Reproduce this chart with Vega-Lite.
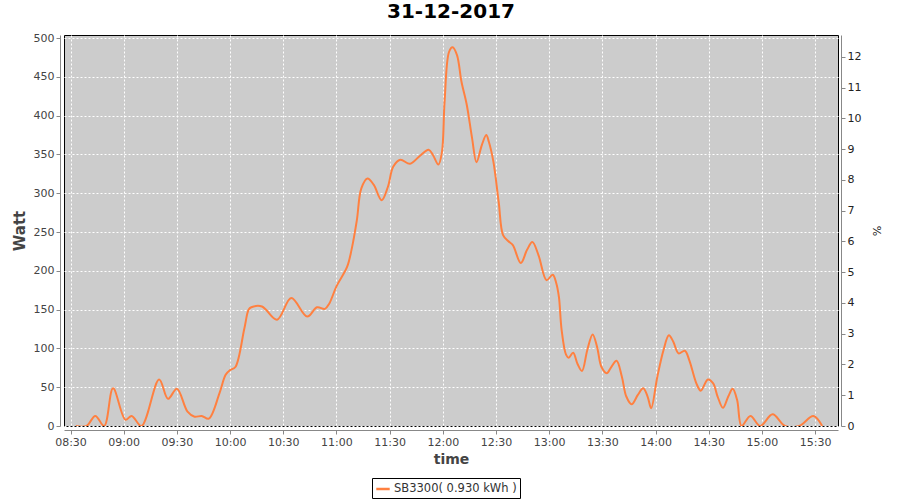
{
  "$schema": "https://vega.github.io/schema/vega-lite/v6.json",
  "width": 774,
  "height": 391,
  "autosize": {"type": "none"},
  "padding": {"left": 64, "top": 35, "right": 62, "bottom": 74},
  "background": "white",
  "title": {"text": "31-12-2017", "font": "DejaVu Sans", "fontSize": 20, "fontWeight": "bold", "color": "#000", "offset": 10, "anchor": "middle"},
  "data": {"values": [
    {"time": "2017-12-31T08:33:00Z", "watt": 0},
    {"time": "2017-12-31T08:39:00Z", "watt": 0},
    {"time": "2017-12-31T08:44:00Z", "watt": 13},
    {"time": "2017-12-31T08:49:00Z", "watt": 0},
    {"time": "2017-12-31T08:54:00Z", "watt": 48.5},
    {"time": "2017-12-31T09:01:00Z", "watt": 8},
    {"time": "2017-12-31T09:04:30Z", "watt": 13},
    {"time": "2017-12-31T09:10:00Z", "watt": 0},
    {"time": "2017-12-31T09:20:00Z", "watt": 60},
    {"time": "2017-12-31T09:25:00Z", "watt": 35},
    {"time": "2017-12-31T09:30:00Z", "watt": 48},
    {"time": "2017-12-31T09:36:00Z", "watt": 18.5},
    {"time": "2017-12-31T09:40:00Z", "watt": 12},
    {"time": "2017-12-31T09:44:00Z", "watt": 13},
    {"time": "2017-12-31T09:48:00Z", "watt": 9.5},
    {"time": "2017-12-31T09:54:00Z", "watt": 42},
    {"time": "2017-12-31T09:57:30Z", "watt": 66},
    {"time": "2017-12-31T10:00:00Z", "watt": 72},
    {"time": "2017-12-31T10:03:00Z", "watt": 76},
    {"time": "2017-12-31T10:08:00Z", "watt": 125},
    {"time": "2017-12-31T10:10:30Z", "watt": 150},
    {"time": "2017-12-31T10:12:00Z", "watt": 153},
    {"time": "2017-12-31T10:18:00Z", "watt": 154},
    {"time": "2017-12-31T10:26:30Z", "watt": 137},
    {"time": "2017-12-31T10:34:30Z", "watt": 165},
    {"time": "2017-12-31T10:43:30Z", "watt": 141},
    {"time": "2017-12-31T10:49:00Z", "watt": 153},
    {"time": "2017-12-31T10:53:30Z", "watt": 151},
    {"time": "2017-12-31T10:56:00Z", "watt": 158},
    {"time": "2017-12-31T11:00:00Z", "watt": 180},
    {"time": "2017-12-31T11:06:00Z", "watt": 205},
    {"time": "2017-12-31T11:08:30Z", "watt": 227},
    {"time": "2017-12-31T11:11:30Z", "watt": 265},
    {"time": "2017-12-31T11:14:00Z", "watt": 306},
    {"time": "2017-12-31T11:17:30Z", "watt": 319},
    {"time": "2017-12-31T11:21:00Z", "watt": 311},
    {"time": "2017-12-31T11:25:30Z", "watt": 291},
    {"time": "2017-12-31T11:29:00Z", "watt": 308},
    {"time": "2017-12-31T11:32:00Z", "watt": 334},
    {"time": "2017-12-31T11:36:00Z", "watt": 343},
    {"time": "2017-12-31T11:41:30Z", "watt": 338},
    {"time": "2017-12-31T11:47:00Z", "watt": 348},
    {"time": "2017-12-31T11:52:00Z", "watt": 356},
    {"time": "2017-12-31T11:54:30Z", "watt": 349},
    {"time": "2017-12-31T11:57:30Z", "watt": 337},
    {"time": "2017-12-31T11:59:30Z", "watt": 353},
    {"time": "2017-12-31T12:01:00Z", "watt": 418},
    {"time": "2017-12-31T12:03:30Z", "watt": 482},
    {"time": "2017-12-31T12:05:30Z", "watt": 488},
    {"time": "2017-12-31T12:08:00Z", "watt": 478},
    {"time": "2017-12-31T12:10:30Z", "watt": 444},
    {"time": "2017-12-31T12:13:30Z", "watt": 414},
    {"time": "2017-12-31T12:16:30Z", "watt": 371},
    {"time": "2017-12-31T12:19:00Z", "watt": 340},
    {"time": "2017-12-31T12:22:00Z", "watt": 362},
    {"time": "2017-12-31T12:24:30Z", "watt": 375},
    {"time": "2017-12-31T12:26:00Z", "watt": 366},
    {"time": "2017-12-31T12:28:30Z", "watt": 341},
    {"time": "2017-12-31T12:31:30Z", "watt": 289},
    {"time": "2017-12-31T12:34:00Z", "watt": 246},
    {"time": "2017-12-31T12:37:00Z", "watt": 238},
    {"time": "2017-12-31T12:39:30Z", "watt": 233},
    {"time": "2017-12-31T12:44:00Z", "watt": 210},
    {"time": "2017-12-31T12:47:30Z", "watt": 227},
    {"time": "2017-12-31T12:50:30Z", "watt": 237},
    {"time": "2017-12-31T12:54:00Z", "watt": 220},
    {"time": "2017-12-31T12:58:30Z", "watt": 188},
    {"time": "2017-12-31T13:02:00Z", "watt": 195},
    {"time": "2017-12-31T13:04:00Z", "watt": 184},
    {"time": "2017-12-31T13:05:30Z", "watt": 166},
    {"time": "2017-12-31T13:07:00Z", "watt": 124},
    {"time": "2017-12-31T13:09:30Z", "watt": 92},
    {"time": "2017-12-31T13:11:00Z", "watt": 88},
    {"time": "2017-12-31T13:13:30Z", "watt": 94.5},
    {"time": "2017-12-31T13:16:00Z", "watt": 80},
    {"time": "2017-12-31T13:18:30Z", "watt": 71},
    {"time": "2017-12-31T13:21:30Z", "watt": 98},
    {"time": "2017-12-31T13:24:30Z", "watt": 118},
    {"time": "2017-12-31T13:27:00Z", "watt": 102},
    {"time": "2017-12-31T13:29:30Z", "watt": 76},
    {"time": "2017-12-31T13:32:30Z", "watt": 68},
    {"time": "2017-12-31T13:35:00Z", "watt": 76},
    {"time": "2017-12-31T13:38:00Z", "watt": 84},
    {"time": "2017-12-31T13:41:00Z", "watt": 63.5},
    {"time": "2017-12-31T13:43:30Z", "watt": 38},
    {"time": "2017-12-31T13:46:30Z", "watt": 28},
    {"time": "2017-12-31T13:50:00Z", "watt": 40},
    {"time": "2017-12-31T13:53:00Z", "watt": 48.5},
    {"time": "2017-12-31T13:55:30Z", "watt": 38},
    {"time": "2017-12-31T13:57:30Z", "watt": 23},
    {"time": "2017-12-31T14:01:00Z", "watt": 63.5},
    {"time": "2017-12-31T14:04:30Z", "watt": 98},
    {"time": "2017-12-31T14:07:30Z", "watt": 117},
    {"time": "2017-12-31T14:10:00Z", "watt": 108.6},
    {"time": "2017-12-31T14:13:00Z", "watt": 93.6},
    {"time": "2017-12-31T14:16:30Z", "watt": 97},
    {"time": "2017-12-31T14:19:00Z", "watt": 85},
    {"time": "2017-12-31T14:23:00Z", "watt": 55},
    {"time": "2017-12-31T14:25:30Z", "watt": 45.5},
    {"time": "2017-12-31T14:29:30Z", "watt": 60},
    {"time": "2017-12-31T14:32:30Z", "watt": 55},
    {"time": "2017-12-31T14:35:00Z", "watt": 38},
    {"time": "2017-12-31T14:38:00Z", "watt": 23.5},
    {"time": "2017-12-31T14:41:00Z", "watt": 38},
    {"time": "2017-12-31T14:43:30Z", "watt": 48},
    {"time": "2017-12-31T14:46:00Z", "watt": 33.5},
    {"time": "2017-12-31T14:48:30Z", "watt": 0},
    {"time": "2017-12-31T14:53:30Z", "watt": 13},
    {"time": "2017-12-31T14:59:00Z", "watt": 0},
    {"time": "2017-12-31T15:06:00Z", "watt": 15},
    {"time": "2017-12-31T15:13:00Z", "watt": 0},
    {"time": "2017-12-31T15:21:00Z", "watt": 0},
    {"time": "2017-12-31T15:29:00Z", "watt": 13},
    {"time": "2017-12-31T15:34:00Z", "watt": 0}
  ]},
  "layer": [
    {
      "mark": {"type": "line", "interpolate": "catmull-rom", "strokeWidth": 2, "clip": true},
      "encoding": {
        "x": {
          "field": "time", "type": "temporal",
          "scale": {"type": "utc", "domain": [
            {"year": 2017, "month": 12, "date": 31, "hours": 8, "minutes": 26, "seconds": 20, "utc": true},
            {"year": 2017, "month": 12, "date": 31, "hours": 15, "minutes": 42, "seconds": 54, "utc": true}
          ]},
          "axis": {
            "title": "time", "format": "%H:%M",
            "values": [
              {"year": 2017, "month": 12, "date": 31, "hours": 8, "minutes": 30, "utc": true},
              {"year": 2017, "month": 12, "date": 31, "hours": 9, "minutes": 0, "utc": true},
              {"year": 2017, "month": 12, "date": 31, "hours": 9, "minutes": 30, "utc": true},
              {"year": 2017, "month": 12, "date": 31, "hours": 10, "minutes": 0, "utc": true},
              {"year": 2017, "month": 12, "date": 31, "hours": 10, "minutes": 30, "utc": true},
              {"year": 2017, "month": 12, "date": 31, "hours": 11, "minutes": 0, "utc": true},
              {"year": 2017, "month": 12, "date": 31, "hours": 11, "minutes": 30, "utc": true},
              {"year": 2017, "month": 12, "date": 31, "hours": 12, "minutes": 0, "utc": true},
              {"year": 2017, "month": 12, "date": 31, "hours": 12, "minutes": 30, "utc": true},
              {"year": 2017, "month": 12, "date": 31, "hours": 13, "minutes": 0, "utc": true},
              {"year": 2017, "month": 12, "date": 31, "hours": 13, "minutes": 30, "utc": true},
              {"year": 2017, "month": 12, "date": 31, "hours": 14, "minutes": 0, "utc": true},
              {"year": 2017, "month": 12, "date": 31, "hours": 14, "minutes": 30, "utc": true},
              {"year": 2017, "month": 12, "date": 31, "hours": 15, "minutes": 0, "utc": true},
              {"year": 2017, "month": 12, "date": 31, "hours": 15, "minutes": 30, "utc": true}
            ],
            "labelFlush": false, "labelOverlap": false, "offset": 4, "tickSize": 4,
            "domainColor": "#888888", "tickColor": "#888888", "labelColor": "#444444",
            "labelFont": "DejaVu Sans", "labelFontSize": 11, "labelPadding": 2,
            "titleFont": "DejaVu Sans", "titleFontSize": 14, "titleFontWeight": "bold", "titleColor": "#444444", "titlePadding": 5,
            "grid": true, "gridColor": "#ffffff", "gridDash": [2, 2], "gridWidth": 1, "gridOpacity": 1
          }
        },
        "y": {
          "field": "watt", "type": "quantitative",
          "scale": {"domain": [0, 503.9], "nice": false},
          "axis": {
            "title": "Watt", "values": [0, 50, 100, 150, 200, 250, 300, 350, 400, 450, 500],
            "offset": 4, "tickSize": 4,
            "domainColor": "#888888", "tickColor": "#888888", "labelColor": "#444444",
            "labelFont": "DejaVu Sans", "labelFontSize": 11, "labelPadding": 2,
            "titleFont": "DejaVu Sans", "titleFontSize": 15, "titleFontWeight": "bold", "titleColor": "#444444", "titlePadding": 6,
            "grid": true, "gridColor": "#ffffff", "gridDash": [2, 2], "gridWidth": 1, "gridOpacity": 1
          }
        },
        "color": {
          "datum": "SB3300( 0.930 kWh )",
          "scale": {"range": ["#ff8040"]},
          "legend": {
            "title": null, "orient": "none", "legendX": 308, "legendY": 443,
            "strokeColor": "#000000", "fillColor": "#ffffff", "padding": 3,
            "symbolType": "stroke", "symbolStrokeWidth": 2.5, "symbolSize": 180, "labelOffset": 3,
            "labelFont": "DejaVu Sans", "labelFontSize": 11.5, "labelColor": "#333333"
          }
        }
      }
    },
    {
      "mark": {"type": "line", "opacity": 0, "clip": true},
      "encoding": {
        "x": {"field": "time", "type": "temporal"},
        "y": {
          "field": "watt", "type": "quantitative",
          "scale": {"domain": [0, 12.71], "nice": false},
          "axis": {
            "orient": "right", "title": "%", "values": [0, 1, 2, 3, 4, 5, 6, 7, 8, 9, 10, 11, 12], "format": "d",
            "offset": 3, "tickSize": 4, "grid": false,
            "domainColor": "#888888", "tickColor": "#888888", "labelColor": "#222222",
            "labelFont": "DejaVu Sans", "labelFontSize": 11, "labelPadding": 2,
            "titleFont": "DejaVu Sans", "titleFontSize": 11, "titleFontWeight": "normal", "titleColor": "#222222", "titlePadding": 10
          }
        }
      }
    }
  ],
  "resolve": {"scale": {"y": "independent"}},
  "config": {
    "view": {"stroke": "#000000", "strokeWidth": 1, "fill": "#cccccc"}
  }
}
